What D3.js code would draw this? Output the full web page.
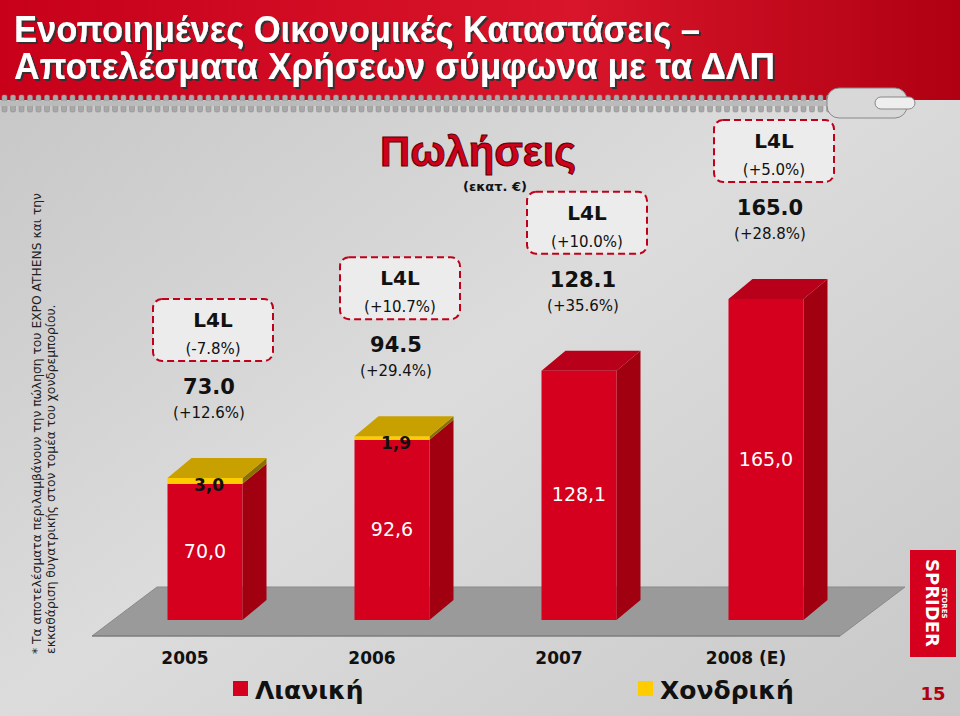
<!DOCTYPE html>
<html><head><meta charset="utf-8">
<script src="https://cdn.jsdelivr.net/npm/d3@7"></script>
<style>body{margin:0;}svg{display:block;}</style>
</head><body>
<svg id="c" width="960" height="716"></svg>
<script>
const years = ["2005","2006","2007","2008 (E)"];
const retail = [70.0, 92.6, 128.1, 165.0];
const wholesale = [3.0, 1.9, 0, 0];
const retailLabels = ["70,0","92,6","128,1","165,0"];
const wholesaleLabels = ["3,0","1,9","",""];
const totalLabels = ["73.0","94.5","128.1","165.0"];
const growthLabels = ["(+12.6%)","(+29.4%)","(+35.6%)","(+28.8%)"];
const l4lLabels = ["(-7.8%)","(+10.7%)","(+10.0%)","(+5.0%)"];

const svg = d3.select("#c");
const defs = svg.append("defs");
const rg = defs.append("linearGradient").attr("id","red").attr("x1",0).attr("x2",1);
rg.append("stop").attr("offset","0").attr("stop-color","#c8001a");
rg.append("stop").attr("offset","0.6").attr("stop-color","#d8152a");
rg.append("stop").attr("offset","1").attr("stop-color","#b00012");
const bg = defs.append("linearGradient").attr("id","bg").attr("x1",0).attr("x2",1).attr("y1",0).attr("y2",1);
bg.append("stop").attr("offset","0").attr("stop-color","#c4c4c4");
bg.append("stop").attr("offset","0.5").attr("stop-color","#dcdcdc");
bg.append("stop").attr("offset","1").attr("stop-color","#c8c8c8");
const sh = defs.append("filter").attr("id","sh");
sh.append("feDropShadow").attr("dx",2).attr("dy",2).attr("stdDeviation",0.5).attr("flood-color","#333");

svg.append("rect").attr("width",960).attr("height",716).attr("fill","url(#bg)");
svg.append("rect").attr("width",960).attr("height",100).attr("fill","url(#red)");
const teeth = d3.range(0, 830, 8.5);
svg.selectAll(".tooth").data(teeth).join("rect")
  .attr("x",d=>d+2).attr("y",95).attr("width",5).attr("height",17).attr("rx",1.5)
  .attr("fill","#a8a8a8").attr("stroke","#888").attr("stroke-width",0.5);
svg.append("rect").attr("x",0).attr("y",101).attr("width",830).attr("height",5).attr("fill","#bbb");
svg.append("rect").attr("x",827).attr("y",88).attr("width",80).attr("height",30).attr("rx",12)
  .attr("fill","#d8d8d8").attr("stroke","#888");
svg.append("rect").attr("x",875).attr("y",97).attr("width",40).attr("height",12).attr("rx",6)
  .attr("fill","#eee").attr("stroke","#888");

const titleLines = ["Ενοποιημένες Οικονομικές Καταστάσεις –","Αποτελέσματα Χρήσεων σύμφωνα με τα ΔΛΠ"];
const titleLens = [686, 761];
svg.append("g").attr("filter","url(#sh)")
  .selectAll("text").data(titleLines).join("text")
  .attr("x",14).attr("y",(d,i)=>42+i*37).attr("fill","#fff")
  .attr("font-family","'Liberation Sans',sans-serif").attr("font-weight","bold")
  .attr("font-size",37).attr("textLength",(d,i)=>titleLens[i]).attr("lengthAdjust","spacingAndGlyphs").text(d=>d);

svg.append("g").attr("transform","translate(41,654) rotate(-90)")
  .selectAll("text").data(["* Τα αποτελέσματα περιλαμβάνουν την πώληση του EXPO ATHENS και την","εκκαθάριση θυγατρικής στον τομέα του χονδρεμπορίου."]).join("text")
  .attr("x",0).attr("y",(d,i)=>i*14).attr("font-family","'DejaVu Sans',sans-serif")
  .attr("font-size",12.3).attr("fill","#222").text(d=>d);

svg.append("path").attr("d","M92,636 L840,636 L905,587 L157,587 Z").attr("fill","#9a9a9a").attr("stroke","#8a8a8a");
svg.append("line").attr("x1",92).attr("x2",840).attr("y1",636).attr("y2",636).attr("stroke","#777");

const x = d3.scalePoint().domain(years).range([205,766]);
const y = d3.scaleLinear().domain([0,165]).range([620,299]);
const bw = 75, dx = 24, dy = 20;
const font = "Verdana,'DejaVu Sans',sans-serif";

years.forEach((yr,i)=>{
  const x0 = x(yr) - bw/2;
  const yR = y(retail[i]), yT = y(retail[i]+wholesale[i]);
  const g = svg.append("g");
  g.append("path").attr("d",`M${x0+bw},620 L${x0+bw+dx},${620-dy} L${x0+bw+dx},${yR-dy} L${x0+bw},${yR} Z`).attr("fill","#a0000f");
  g.append("rect").attr("x",x0).attr("y",yR).attr("width",bw).attr("height",620-yR).attr("fill","#d4001e");
  if (wholesale[i]>0){
    g.append("path").attr("d",`M${x0+bw},${yR} L${x0+bw+dx},${yR-dy} L${x0+bw+dx},${yT-dy} L${x0+bw},${yT} Z`).attr("fill","#8a7000");
    g.append("rect").attr("x",x0).attr("y",yT).attr("width",bw).attr("height",yR-yT).attr("fill","#ffcc00");
    g.append("path").attr("d",`M${x0},${yT} L${x0+dx},${yT-dy} L${x0+bw+dx},${yT-dy} L${x0+bw},${yT} Z`).attr("fill","#c8a000");
    g.append("text").attr("x",x0+bw/2+4).attr("y",yT+13).attr("text-anchor","middle")
      .attr("font-family",font).attr("font-weight","bold").attr("font-size",17).attr("fill","#111").text(wholesaleLabels[i]);
  } else {
    g.append("path").attr("d",`M${x0},${yT} L${x0+dx},${yT-dy} L${x0+bw+dx},${yT-dy} L${x0+bw},${yT} Z`).attr("fill","#b8001a");
  }
  g.append("text").attr("x",x0+bw/2).attr("y",(yR+620)/2+6).attr("text-anchor","middle")
    .attr("font-family",font).attr("font-size",19).attr("fill","#fff").text(retailLabels[i]);
  const vy = yT - 84, cx = x0+bw/2+8;
  g.append("rect").attr("x",cx-60).attr("y",vy-95).attr("width",120).attr("height",62).attr("rx",9)
    .attr("fill","#ececec").attr("stroke","#c0001a").attr("stroke-width",2).attr("stroke-dasharray","7,4");
  g.append("text").attr("x",cx).attr("y",vy-67).attr("text-anchor","middle").attr("font-family",font)
    .attr("font-weight","bold").attr("font-size",20).attr("fill","#111").text("L4L");
  g.append("text").attr("x",cx).attr("y",vy-40).attr("text-anchor","middle").attr("font-family",font)
    .attr("font-size",15).attr("fill","#111").text(l4lLabels[i]);
  g.append("text").attr("x",cx-4).attr("y",vy).attr("text-anchor","middle").attr("font-family",font)
    .attr("font-weight","bold").attr("font-size",21).attr("fill","#111").text(totalLabels[i]);
  g.append("text").attr("x",cx-4).attr("y",vy+24).attr("text-anchor","middle").attr("font-family",font)
    .attr("font-size",15).attr("fill","#111").text(growthLabels[i]);
  svg.append("text").attr("x",x(yr)-20).attr("y",664).attr("text-anchor","middle").attr("font-family",font)
    .attr("font-weight","bold").attr("font-size",17).attr("fill","#111").text(yr);
});

svg.append("text").attr("x",478).attr("y",166).attr("text-anchor","middle")
  .attr("font-family","'Liberation Sans',sans-serif").attr("font-weight","bold")
  .attr("font-size",42).attr("textLength",196).attr("lengthAdjust","spacingAndGlyphs")
  .attr("fill","#d0001a").attr("stroke","#5a0008").attr("stroke-width",1).text("Πωλήσεις");
svg.append("text").attr("x",495).attr("y",191).attr("text-anchor","middle").attr("font-family",font)
  .attr("font-weight","bold").attr("font-size",13).attr("fill","#111").text("(εκατ. €)");

const leg = [["Λιανική","#d4001e",233],["Χονδρική","#ffcc00",638]];
leg.forEach(([t,c,lx])=>{
  svg.append("rect").attr("x",lx).attr("y",681).attr("width",15).attr("height",15).attr("fill",c);
  svg.append("text").attr("x",lx+22).attr("y",699).attr("font-family",font).attr("font-size",25)
    .attr("font-weight","bold").attr("fill","#111").text(t);
});
svg.append("text").attr("x",933).attr("y",700).attr("text-anchor","middle").attr("font-family",font)
  .attr("font-weight","bold").attr("font-size",18).attr("fill","#b00010").text("15");
svg.append("rect").attr("x",910).attr("y",550).attr("width",46).attr("height",107).attr("fill","#d4001e");
svg.append("text").attr("transform","translate(926,603) rotate(90)").attr("text-anchor","middle")
  .attr("font-family",font).attr("font-weight","bold").attr("font-size",18).attr("fill","#fff").text("SPRIDER");
svg.append("text").attr("transform","translate(942,603) rotate(90)").attr("text-anchor","middle")
  .attr("font-family",font).attr("font-weight","bold").attr("font-size",7).attr("fill","#fff").text("STORES");
</script>
</body></html>
